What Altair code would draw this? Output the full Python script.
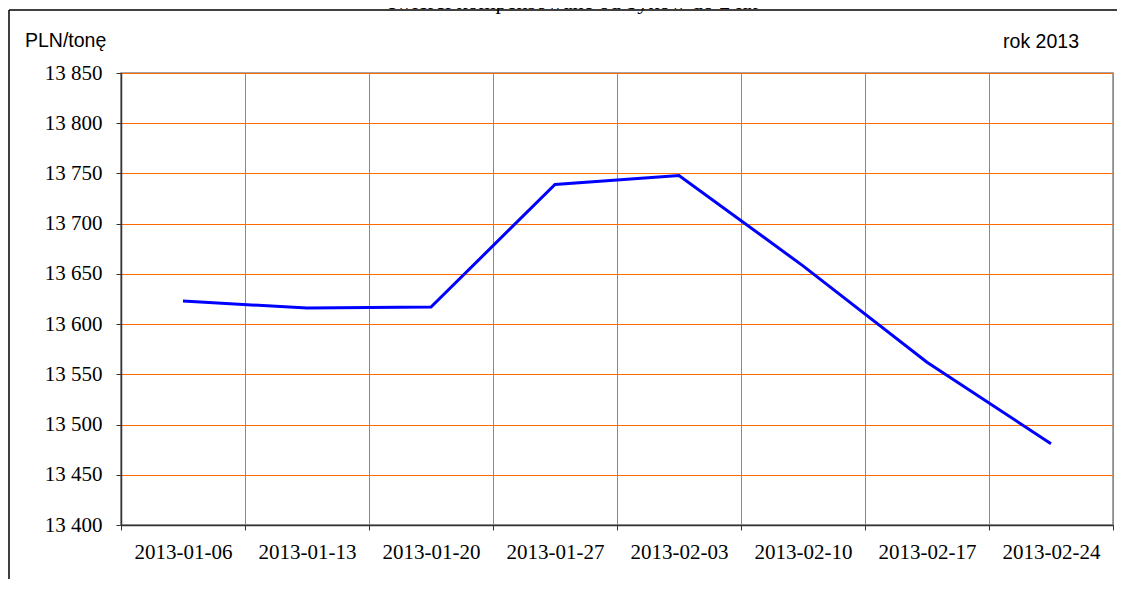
import altair as alt
import pandas as pd

# ---- data ----
dates = ["2013-01-06", "2013-01-13", "2013-01-20", "2013-01-27",
         "2013-02-03", "2013-02-10", "2013-02-17", "2013-02-24"]
prices = [13623, 13616, 13617, 13739, 13748, 13658, 13562, 13481]
y_ticks = [13400, 13450, 13500, 13550, 13600, 13650, 13700, 13750, 13800, 13850]
title_text = ["ćwierci kompensowane od byków do 2 lat"]
unit_text = ["PLN/tonę"]
year_text = ["rok 2013"]

df = pd.DataFrame({"data": dates, "cena": prices})

W, H = 992, 452
PAD_L, PAD_T, PAD_R, PAD_B = 113, 65, 4, 54
ORANGE = "#FF6A00"
SERIF = "Times New Roman, Liberation Serif, serif"

x_enc = alt.X(
    "data:N", sort=None, bandPosition=0.5,
    scale=alt.Scale(type="band", paddingInner=0, paddingOuter=0),
    axis=alt.Axis(
        title=None, labelAngle=0, tickBand="extent", grid=True,
        gridColor=ORANGE, gridWidth=1, domainColor="#333333", domainWidth=1.5,
        tickColor="#333333", tickSize=5, labelFont=SERIF,
        labelFontSize=21, labelColor="#000000", labelPadding=11,
    ),
)
y_enc = alt.Y(
    "cena:Q",
    scale=alt.Scale(domain=[13400, 13850], nice=False, zero=False),
    axis=alt.Axis(
        title=None, values=y_ticks, grid=True, gridColor=ORANGE, gridWidth=1,
        domainColor="#333333", domainWidth=1.5, tickColor="#333333", tickSize=5,
        labelFont=SERIF, labelFontSize=21, labelColor="#000000",
        labelPadding=14,
        labelExpr="replace(format(datum.value, ','), ',', ' ')",
    ),
)

line = alt.Chart(df).mark_line(color="#0000FF", strokeWidth=3).encode(x=x_enc, y=y_enc)

frame_src = pd.DataFrame({"k": [0]})
frame_top = alt.Chart(frame_src).mark_rule(color="#000000", strokeWidth=1.5).encode(
    x=alt.value(-112), x2=alt.value(W + PAD_R), y=alt.value(-63),
)
frame_left = alt.Chart(frame_src).mark_rule(color="#000000", strokeWidth=1.5).encode(
    x=alt.value(-112), y=alt.value(-63), y2=alt.value(H + PAD_B),
)

title = alt.Chart(pd.DataFrame({"t": title_text})).mark_text(
    font=SERIF, fontSize=22, align="center", baseline="alphabetic",
    color="#000000",
).encode(text="t:N", x=alt.value(451), y=alt.value(-64))

unit = alt.Chart(pd.DataFrame({"t": unit_text})).mark_text(
    font="Liberation Sans", fontSize=19.5, align="left", baseline="alphabetic",
    color="#000000",
).encode(text="t:N", x=alt.value(-96), y=alt.value(-26))

year = alt.Chart(pd.DataFrame({"t": year_text})).mark_text(
    font="Liberation Sans", fontSize=19.5, align="right", baseline="alphabetic",
    color="#000000",
).encode(text="t:N", x=alt.value(958), y=alt.value(-25))

chart = alt.layer(line, frame_top, frame_left, title, unit, year).properties(
    width=W, height=H,
    autosize=alt.AutoSizeParams(type="none"),
    padding={"left": PAD_L, "top": PAD_T, "right": PAD_R, "bottom": PAD_B},
).configure_view(
    stroke="#888888", strokeWidth=1.5
).configure_axis(
    labelFont=SERIF
)

chart.save("out.html", embed_options={"renderer": "svg", "actions": False})
